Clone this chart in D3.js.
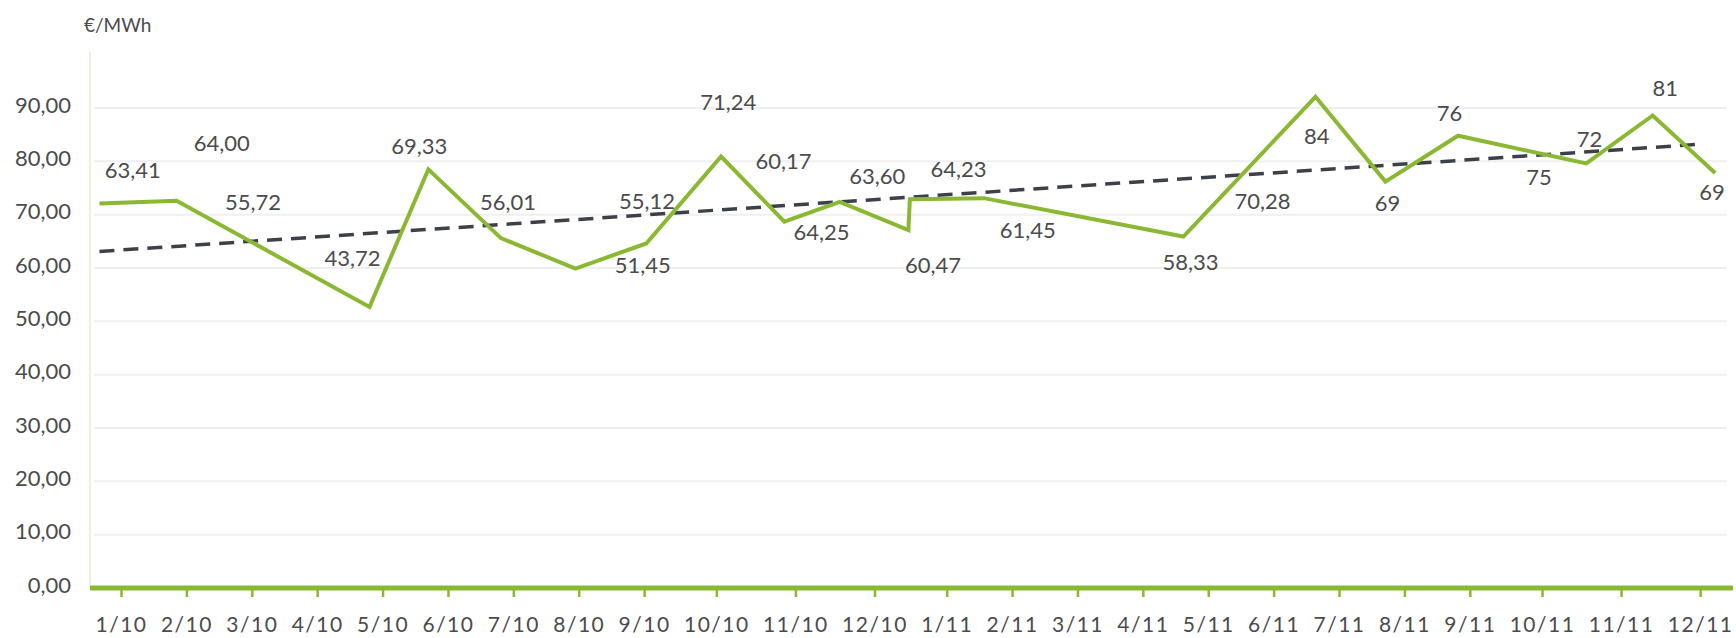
<!DOCTYPE html>
<html>
<head>
<meta charset="utf-8">
<script src="https://cdn.jsdelivr.net/npm/d3@7"></script>
<style>
  body { margin: 0; background: #fff; }
  text { font-family: Lato, "Open Sans", sans-serif; fill: #4b4b4b; }
</style>
</head>
<body>
<div id="chart"></div>
<script>
var months = ["1/10", "2/10", "3/10", "4/10", "5/10", "6/10", "7/10", "8/10", "9/10", "10/10", "11/10", "12/10",
              "1/11", "2/11", "3/11", "4/11", "5/11", "6/11", "7/11", "8/11", "9/11", "10/11", "11/11", "12/11"];

var yTicks = [0, 10, 20, 30, 40, 50, 60, 70, 80, 90];

// green price line (month position can fall between months)
var lineMonth = [-0.33, 0.85, 3.80, 4.70, 5.81, 6.95, 8.03, 9.06, 9.86, 10.56, 11.47, 11.49,
                 12.57, 15.62, 17.64, 18.71, 19.82, 21.56, 22.40, 23.19];
var lineValue = [72.1, 72.6, 52.7, 78.5, 65.6, 59.9, 64.6, 80.9, 68.7, 72.4, 67.1, 72.9,
                 73.1, 65.9, 92.1, 76.2, 84.8, 79.6, 88.6, 77.8];

// dashed trend
var trendMonth = [-0.33, 23.0];
var trendValue = [63.1, 83.2];

// value labels as printed on the chart
var priceLabels = ["63,41", "64,00", "55,72", "43,72", "69,33", "56,01", "51,45", "55,12", "71,24", "60,17",
                   "64,25", "63,60", "60,47", "64,23", "61,45", "58,33", "70,28", "84", "69", "76",
                   "75", "72", "81", "69"];
var labelMonth = [0.18, 1.54, 2.02, 3.54, 4.56, 5.92, 7.98, 8.04, 9.15, 9.85,
                  10.33, 11.04, 11.81, 12.18, 13.24, 15.73, 16.83, 17.66, 18.74, 19.69,
                  20.96, 21.60, 22.56, 23.15];
var labelValue = [78.4, 83.4, 72.4, 61.8, 82.9, 72.4, 60.6, 72.6, 91.2, 80.1,
                  66.7, 77.3, 60.6, 78.5, 67.1, 61.2, 72.6, 84.8, 72.1, 89.1,
                  77.0, 84.1, 93.7, 74.3];

var width = 1736,
    height = 638,
    left = 90,
    right = 1733,
    axisY = 588,
    green = "#8ab833";

var svg = d3.select("#chart").append("svg")
    .attr("width", width)
    .attr("height", height);

var y = d3.scaleLinear()
    .domain([0, 90])
    .range([axisY, 108]);

// month labels are set like a line of text, justified along the axis,
// so measure them first and put each tick under its label
var measure = svg.append("g");
var widths = months.map(function(m) {
  var t = measure.append("text")
      .style("font-size", "21px")
      .style("letter-spacing", "1.5px")
      .text(m);
  return t.node().getBBox().width;
});
measure.remove();

var labelStart = 95,
    gap = (right - labelStart - d3.sum(widths)) / (months.length - 1),
    centers = [],
    pos = labelStart;
widths.forEach(function(w) {
  centers.push(pos + w / 2);
  pos += w + gap;
});

var x = d3.scaleLinear()
    .domain(d3.range(months.length))
    .range(centers);

// grid
svg.append("g")
    .selectAll("line")
    .data(yTicks.filter(function(d) { return d > 0; }))
  .enter().append("line")
    .attr("x1", left + 4)
    .attr("x2", 1727)
    .attr("y1", function(d) { return y(d); })
    .attr("y2", function(d) { return y(d); })
    .style("stroke", "#efefef")
    .style("stroke-width", 2);

// y axis
svg.append("line")
    .attr("x1", left).attr("x2", left)
    .attr("y1", 52).attr("y2", axisY)
    .style("stroke", "#eef0de")
    .style("stroke-width", 2);

var yAxis = svg.append("g")
    .attr("transform", "translate(" + left + ",-3)")
    .call(d3.axisLeft(y)
      .tickValues(yTicks)
      .tickSize(0)
      .tickPadding(19)
      .tickFormat(function(d) { return d3.format(".2f")(d).replace(".", ","); }));
yAxis.select(".domain").remove();
yAxis.selectAll("text")
    .style("font-size", "22px")
    .style("fill", "#4b4b4b");

svg.append("text")
    .attr("x", 84)
    .attr("y", 32)
    .style("font-size", "19px")
    .text("€/MWh");

// x axis
svg.append("line")
    .attr("x1", left).attr("x2", right)
    .attr("y1", axisY).attr("y2", axisY)
    .style("stroke", green)
    .style("stroke-width", 5);

var xAxis = svg.append("g")
    .attr("transform", "translate(0," + axisY + ")")
    .call(d3.axisBottom(x)
      .tickValues(d3.range(months.length))
      .tickSize(9)
      .tickPadding(20)
      .tickFormat(function(i) { return months[i]; }));
xAxis.select(".domain").remove();
xAxis.selectAll(".tick line")
    .style("stroke", green)
    .style("stroke-width", 2.5);
xAxis.selectAll("text")
    .style("font-size", "21px")
    .style("letter-spacing", "1.5px")
    .style("fill", "#4b4b4b");

// trend
var trend = d3.line()
    .x(function(d, i) { return x(trendMonth[i]); })
    .y(function(d) { return y(d); });

svg.append("path")
    .attr("d", trend(trendValue))
    .style("fill", "none")
    .style("stroke", "#3d4049")
    .style("stroke-width", 3.5)
    .style("stroke-dasharray", "15,9");

// price line
var price = d3.line()
    .x(function(d, i) { return x(lineMonth[i]); })
    .y(function(d) { return y(d); });

svg.append("path")
    .attr("d", price(lineValue))
    .style("fill", "none")
    .style("stroke", green)
    .style("stroke-width", 4)
    .style("stroke-linejoin", "miter");

svg.append("g")
    .selectAll("text")
    .data(priceLabels)
  .enter().append("text")
    .attr("x", function(d, i) { return x(labelMonth[i]); })
    .attr("y", function(d, i) { return y(labelValue[i]); })
    .attr("dy", "0.36em")
    .attr("text-anchor", "middle")
    .style("font-size", "22px")
    .text(function(d) { return d; });
</script>
</body>
</html>
